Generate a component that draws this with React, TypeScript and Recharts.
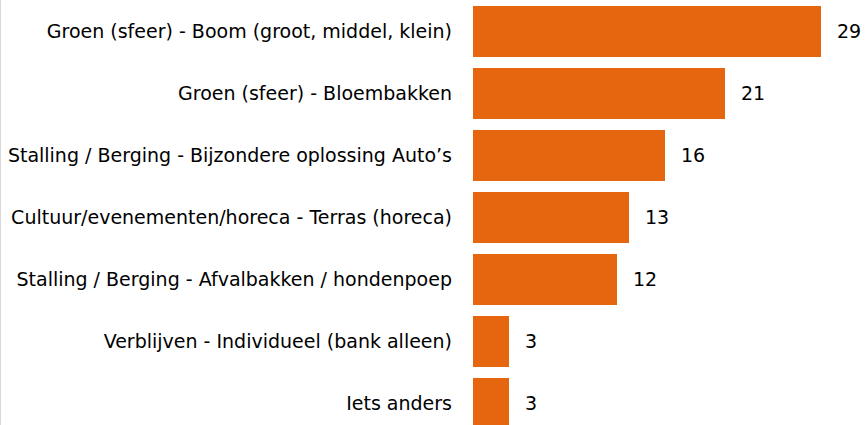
import React from 'react';
import { BarChart, Bar, XAxis, YAxis, LabelList } from 'recharts';

const categories = [
  'Groen (sfeer) - Boom (groot, middel, klein)',
  'Groen (sfeer) - Bloembakken',
  'Stalling / Berging - Bijzondere oplossing Auto’s',
  'Cultuur/evenementen/horeca - Terras (horeca)',
  'Stalling / Berging - Afvalbakken / hondenpoep',
  'Verblijven - Individueel (bank alleen)',
  'Iets anders',
];
const counts = [29, 21, 16, 13, 12, 3, 3];

const data = categories.map((name, i) => ({ name, value: counts[i] }));

const font = "Tahoma, 'DejaVu Sans', sans-serif";

const App = () => {
  return (
    <div style={{ position: 'fixed', left: 0, top: 0, width: 867, height: 425, overflow: 'hidden', background: '#fff' }}>
      <div style={{ position: 'absolute', left: 0, top: 0, bottom: 0, width: 1, background: '#d9d9d9' }} />
      <BarChart
        width={867}
        height={434}
        data={data}
        layout="vertical"
        margin={{ top: 0, right: 46, left: 0, bottom: 0 }}
      >
        <XAxis type="number" domain={[0, 29]} hide />
        <YAxis
          type="category"
          dataKey="name"
          width={473}
          axisLine={false}
          tickLine={false}
          tickSize={0}
          tickMargin={21}
          interval={0}
          tick={{ fill: '#000', fontSize: 19, fontFamily: font }}
        />
        <Bar dataKey="value" fill="#E5660E" barSize={51} isAnimationActive={false}>
          <LabelList dataKey="value" position="right" offset={16} fill="#000" fontSize={19} fontFamily={font} />
        </Bar>
      </BarChart>
    </div>
  );
};

export default App;
